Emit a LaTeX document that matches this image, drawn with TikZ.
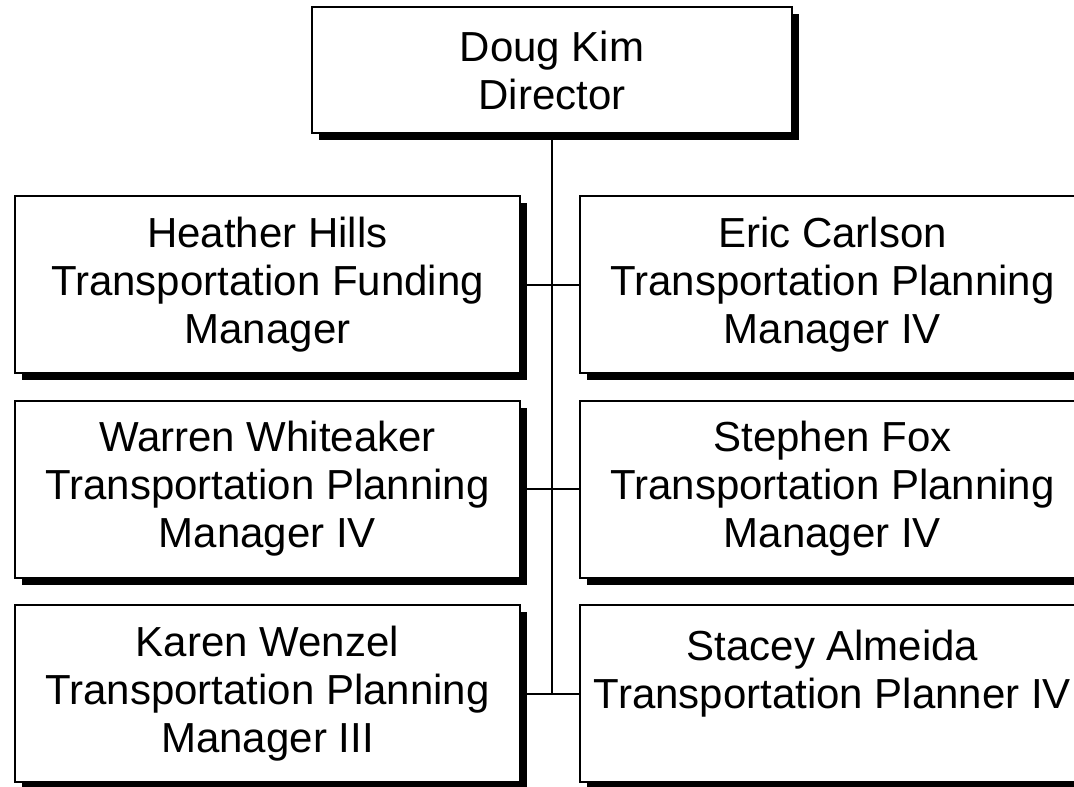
\documentclass[tikz,border=0pt]{standalone}
\usepackage{fontspec}
\setmainfont{Liberation Sans}
\usetikzlibrary{shadows}
\begin{document}
\begin{tikzpicture}[x=0.5pt,y=-0.5pt]
    \tikzset{person/.style= {draw,
                             rectangle,
                             fill=white,
                             line width=1pt,
                             align=center,
                             inner sep=0pt,
                             font=\fontsize{21}{24}\selectfont,
                             drop shadow={shadow xshift=3.5pt,
                                          shadow yshift=-3.5pt,
                                          fill=black,
                                          opacity=1}},
             head/.style=  {person,
                            minimum width=240pt,
                            minimum height=63pt},
             staff/.style= {person,
                            minimum width=252.5pt,
                            minimum height=88.5pt},
             link/.style=  {line width=1pt},
            }
    \useasboundingbox (0,0) rectangle (1074,786);
    \clip (0,0) rectangle (1074,786);
    \path
    (552,70)      node[head](k)  {Doug Kim\\Director}
    (267.5,284.5) node[staff](h) {Heather Hills\\Transportation Funding\\Manager}
    (832.5,284.5) node[staff](c) {Eric Carlson\\Transportation Planning\\Manager IV}
    (267.5,489)   node[staff](w) {Warren Whiteaker\\Transportation Planning\\Manager IV}
    (832.5,489)   node[staff](f) {Stephen Fox\\Transportation Planning\\Manager IV}
    (267.5,693.5) node[staff](z) {Karen Wenzel\\Transportation Planning\\Manager III}
    (832.5,693.5) node[staff](a) {Stacey Almeida\\Transportation Planner IV\\\mbox{}}
    ;
    \draw[link] (k) -- (k |- z.east);
    \draw[link] (h) -- (c);
    \draw[link] (w) -- (f);
    \draw[link] (z) -- (a);
\end{tikzpicture}
\end{document}
